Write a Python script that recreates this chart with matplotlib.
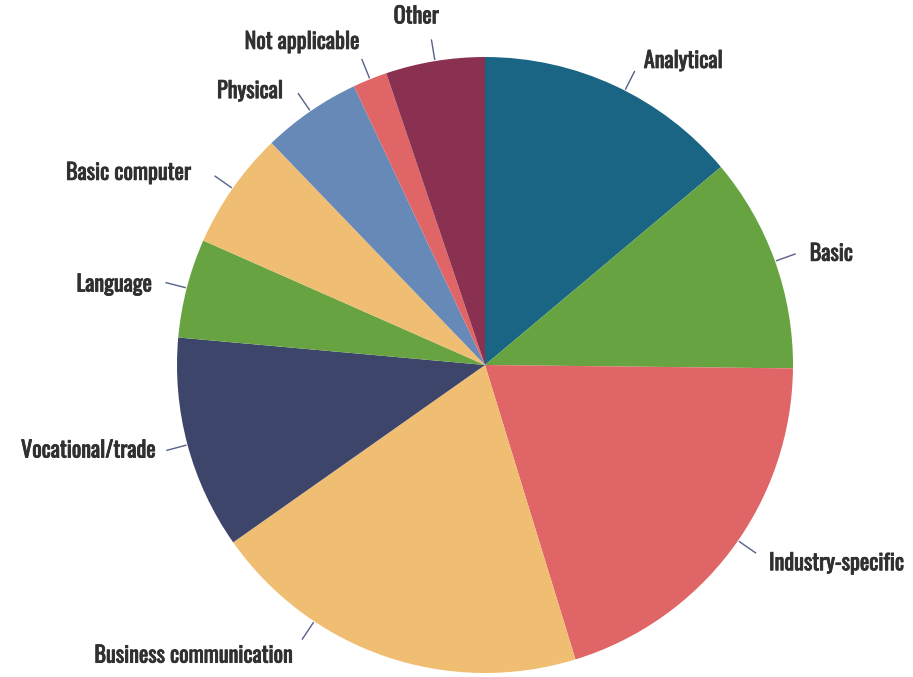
import numpy as np
import matplotlib
matplotlib.use("Agg")
import matplotlib.pyplot as plt
import matplotlib.patheffects as pe

# ---- data ----
categories = ["Analytical", "Basic", "Industry-specific", "Business communication",
              "Vocational/trade", "Language", "Basic computer", "Physical",
              "Not applicable", "Other"]
values = [13.9, 11.3, 20.1, 20.0, 11.2, 5.2, 6.2, 5.2, 1.8, 5.2]
colors = ["#1b6584", "#67a441", "#e06566", "#f0be73", "#3d456b",
          "#67a441", "#f0be73", "#6789b8", "#e06566", "#8a3050"]

# ---- layout (pixels) ----
W, H = 913, 677
cx, cy_px, R = 485, 365, 308
cy = H - cy_px
conn_adj = [2, 0, -2, 14.8, 0, 0, 0, 0, 0, 0]
text_off = [(9, -10), (14, 0), (13, 10), (-8, 16), (-10, 0), (-13, 2), (-23, -3),
            (-15, -2), (-2, -17), (-15, -23)]
text_ha = ["left", "left", "left", "right", "right", "right", "right", "right",
           "right", "center"]

plt.rcParams['font.family'] = ['Oswald', 'Liberation Sans Narrow', 'DejaVu Sans']

fig = plt.figure(figsize=(W / 100, H / 100), dpi=100)
ax = fig.add_axes([0, 0, 1, 1])
ax.pie(values, colors=colors, startangle=90, counterclock=False,
       center=(cx, cy), radius=R, wedgeprops=dict(linewidth=0, antialiased=True))
ax.set_xlim(0, W)
ax.set_ylim(0, H)
ax.set_aspect('equal')
ax.axis('off')

total = sum(values)
cum = np.cumsum([0] + values) / total * 360.0
for i, cat in enumerate(categories):
    mid = (cum[i] + cum[i + 1]) / 2 + conn_adj[i]
    t = np.deg2rad(mid)
    dx, dy = np.sin(t), np.cos(t)
    x0, y0 = cx + (R + 1) * dx, cy + (R + 1) * dy
    x1, y1 = cx + (R + 22) * dx, cy + (R + 22) * dy
    ax.plot([x0, x1], [y0, y1], color="#56608a", lw=1.0, solid_capstyle='butt')
    ox, oy = text_off[i]
    ax.text(x1 + ox, y1 - oy, cat, ha=text_ha[i], va='center', fontsize=16,
            color="#303030",
            path_effects=[pe.withStroke(linewidth=0.6, foreground="#303030")])

fig.savefig("out.png", dpi=100, facecolor="white")
